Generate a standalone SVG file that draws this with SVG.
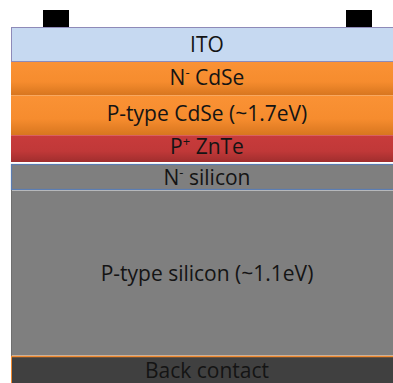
<svg xmlns="http://www.w3.org/2000/svg" width="393" height="383" viewBox="0 0 393 383">
<defs>
<linearGradient id="gOr" x1="0" y1="0" x2="0" y2="1"><stop offset="0" stop-color="#FA9235"/><stop offset="0.6" stop-color="#F68C2E"/><stop offset="1" stop-color="#D8761F"/></linearGradient>
<linearGradient id="gRed" x1="0" y1="0" x2="0" y2="1"><stop offset="0" stop-color="#C83B3B"/><stop offset="0.6" stop-color="#C03838"/><stop offset="1" stop-color="#A02E2E"/></linearGradient>
</defs>
<style>
text{font-family:"Open Sans","Liberation Sans",sans-serif;font-size:21px;fill:#141414;text-anchor:middle}
.sup{font-size:13px}
</style>
<rect width="393" height="383" fill="#fff"/>
<g id="contact-left"><rect x="43" y="10" width="26" height="17" fill="#000"/></g>
<g id="contact-right"><rect x="346" y="10" width="26" height="17" fill="#000"/></g>
<g id="ito"><rect x="11.5" y="27.5" width="390" height="34" fill="#C6D9F1" stroke="#8E8AB8" stroke-width="1"/><text x="207" y="52">ITO</text></g>
<g id="n-cdse"><rect x="11" y="62" width="390" height="33" fill="url(#gOr)"/><text x="207" y="85">N<tspan class="sup" dy="-8">-</tspan><tspan dy="8"> CdSe</tspan></text></g>
<g id="p-cdse"><rect x="11" y="95" width="390" height="40" fill="url(#gOr)"/><line x1="11" y1="95.5" x2="401" y2="95.5" stroke="#F8A860" stroke-width="1"/><text x="207" y="121">P-type CdSe (~1.7eV)</text></g>
<g id="p-znte"><rect x="11" y="135" width="390" height="27" fill="url(#gRed)"/><line x1="11" y1="135.5" x2="401" y2="135.5" stroke="#D86060" stroke-width="1"/><text x="207" y="154">P<tspan class="sup" dy="-8">+</tspan><tspan dy="8"> ZnTe</tspan></text></g>
<g id="n-silicon"><rect x="11.5" y="164.5" width="390" height="25" fill="#7F7F7F" stroke="#5B7DB3" stroke-width="1.2"/><text x="207" y="185">N<tspan class="sup" dy="-8">-</tspan><tspan dy="8"> silicon</tspan></text></g>
<g id="p-silicon"><rect x="11" y="190.5" width="390" height="165" fill="#7F7F7F"/><line x1="11.5" y1="190" x2="11.5" y2="356" stroke="#6F6F6F" stroke-width="1"/><text x="207" y="281">P-type silicon (~1.1eV)</text></g>
<g id="back-contact"><rect x="11" y="356" width="390" height="30" fill="#404040"/><line x1="11" y1="356.5" x2="401" y2="356.5" stroke="#F08A30" stroke-width="1.5"/><line x1="11.5" y1="356" x2="11.5" y2="383" stroke="#F08A30" stroke-width="1"/><text x="207" y="378">Back contact</text></g>
</svg>
